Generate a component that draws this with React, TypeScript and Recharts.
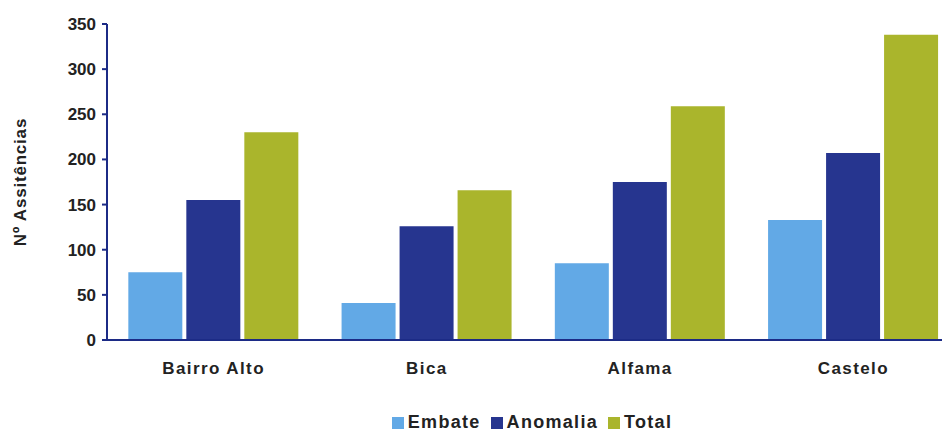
import { BarChart, Bar, XAxis, YAxis, Legend, Label } from "recharts";

const bairros = ["Bairro Alto", "Bica", "Alfama", "Castelo"];
const embate = [75, 41, 85, 133];
const anomalia = [155, 126, 175, 207];
const total = [230, 166, 259, 338];
const yTicks = [0, 50, 100, 150, 200, 250, 300, 350];
const seriesOrder = ["Embate", "Anomalia", "Total"];

const data = bairros.map((name, i) => ({
    name,
    Embate: embate[i],
    Anomalia: anomalia[i],
    Total: total[i],
}));

const font = "'Liberation Sans', Arial, sans-serif";
const axisColor = "#1c2b86";

export default function App() {
    return (
        <div style={{ width: 942, height: 424, overflow: "hidden", fontFamily: font }}>
            <BarChart
                width={960}
                height={424}
                data={data}
                margin={{ top: 16, right: 8, bottom: 0, left: 0 }}
                barCategoryGap="10%"
                barGap={4}
            >
                <XAxis
                    dataKey="name"
                    height={72}
                    tickLine={false}
                    tickSize={0}
                    tickMargin={22}
                    axisLine={{ stroke: axisColor, strokeWidth: 2 }}
                    tick={{ fill: "#222", fontSize: 17, fontWeight: 700, fontFamily: font, letterSpacing: 1.4 }}
                />
                <YAxis
                    width={99}
                    domain={[0, 350]}
                    ticks={yTicks}
                    interval={0}
                    tickSize={5}
                    tickMargin={6}
                    axisLine={{ stroke: axisColor, strokeWidth: 2 }}
                    tickLine={{ stroke: axisColor, strokeWidth: 2 }}
                    tick={{ fill: "#222", fontSize: 17, fontWeight: 700, fontFamily: font }}
                >
                    <Label
                        value="Nº Assitências"
                        angle={-90}
                        position="insideLeft"
                        offset={12}
                        style={{ textAnchor: "middle", fill: "#222", fontSize: 17, fontWeight: 700, fontFamily: font, letterSpacing: 0.8 }}
                    />
                </YAxis>
                <Legend
                    verticalAlign="bottom"
                    height={20}
                    iconType="square"
                    iconSize={12}
                    itemSorter={(item) => seriesOrder.indexOf(String(item.value))}
                    wrapperStyle={{ left: 98, width: 862, fontSize: 18, fontWeight: 700, fontFamily: font, letterSpacing: 1.3 }}
                    formatter={(value) => <span style={{ color: "#222" }}>{value}</span>}
                />
                <Bar dataKey="Embate" fill="#62a9e6" isAnimationActive={false} />
                <Bar dataKey="Anomalia" fill="#26358f" isAnimationActive={false} />
                <Bar dataKey="Total" fill="#aab52c" isAnimationActive={false} />
            </BarChart>
        </div>
    );
}
